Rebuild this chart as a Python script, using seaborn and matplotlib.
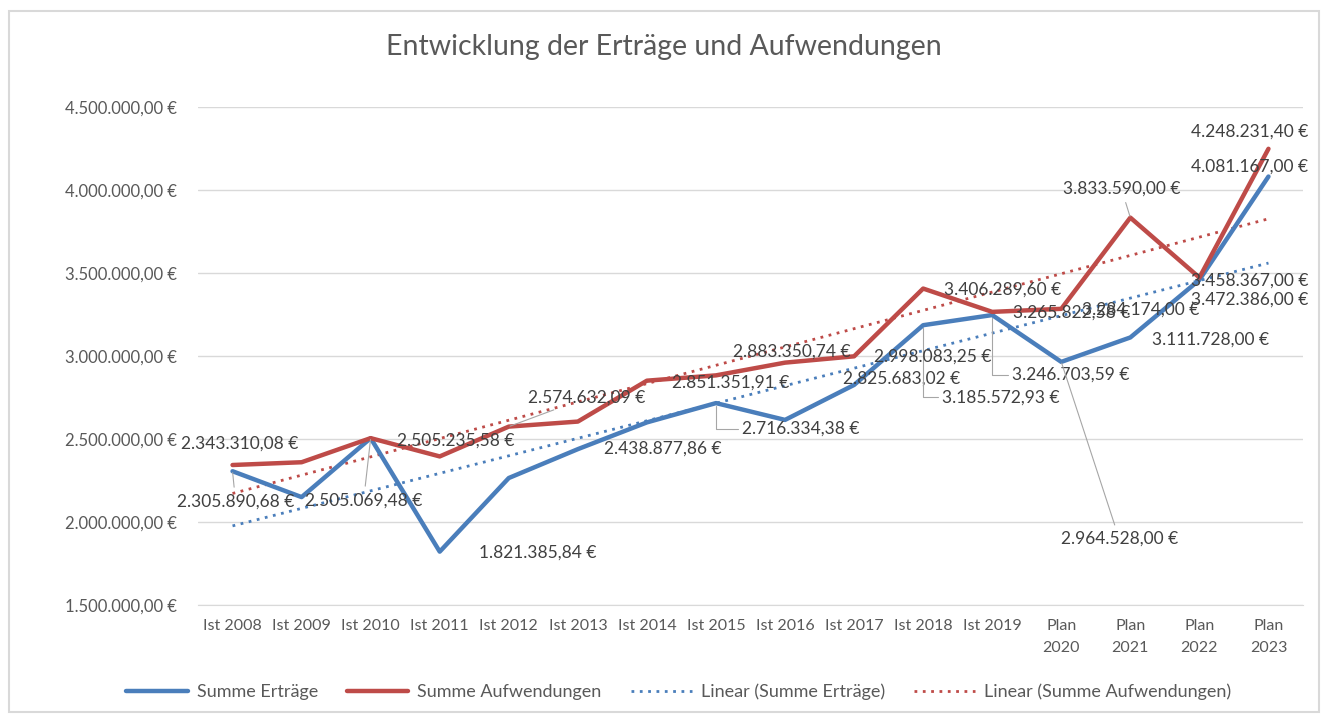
import numpy as np
import pandas as pd
import seaborn as sns
import matplotlib.pyplot as plt

# Daten
jahre = ['Ist 2008', 'Ist 2009', 'Ist 2010', 'Ist 2011', 'Ist 2012', 'Ist 2013', 'Ist 2014', 'Ist 2015',
         'Ist 2016', 'Ist 2017', 'Ist 2018', 'Ist 2019', 'Plan\n2020', 'Plan\n2021', 'Plan\n2022', 'Plan\n2023']
ertraege = [2305890.68, 2150000, 2505069.48, 1821385.84, 2265000, 2438877.86, 2600000, 2716334.38,
            2615000, 2825683.02, 3185572.93, 3246703.59, 2964528.00, 3111728.00, 3458367.00, 4081167.00]
aufwendungen = [2343310.08, 2360000, 2505235.58, 2395000, 2574632.09, 2605000, 2851351.91, 2883350.74,
                2960000, 2998083.25, 3406289.60, 3265822.58, 3284174.00, 3833590.00, 3472386.00, 4248231.40]

# welche Punkte eine Beschriftung haben
ertraege_lab = [0, 2, 3, 5, 7, 9, 10, 11, 12, 13, 14, 15]
aufwendungen_lab = [0, 2, 4, 6, 7, 9, 10, 11, 12, 13, 14, 15]

blau = '#4a7ebb'
rot = '#be4b48'
grau = '#595959'

# Platzierung der Beschriftungen (Pixel-Versatz, Linie ja/nein)
pos_e = {0: (3, -30, 'line'), 2: (-7, -62, 'line'), 3: (98, -1, None), 5: (85, 1, None),
         7: (85, -26, 'angle'), 9: (48, 6, None), 10: (78, -72, 'angle'), 11: (79, -60, 'angle'),
         12: (58, -177, 'line'), 13: (80, -2, None), 14: (50, -1, None), 15: (-19, 10, None)}
pos_a = {0: (7, 21, None), 2: (85, -2, None), 4: (78, 29, 'line'), 6: (84, -2, None),
         7: (76, 24, None), 9: (79, 0, None), 10: (79, -1, None), 11: (79, -1, None),
         12: (79, -1, None), 13: (-9, 29, 'line'), 14: (50, -22, None), 15: (-19, 17, None)}


def euro(v):
    s = f'{v:,.2f}'.replace(',', 'X').replace('.', ',').replace('X', '.')
    return s + ' €'


x = np.arange(len(jahre))
df = pd.DataFrame({'x': x, 'Summe Erträge': ertraege, 'Summe Aufwendungen': aufwendungen})

sns.set_style('white')
plt.rcParams['font.family'] = ['Lato', 'DejaVu Sans']

fig = plt.figure(figsize=(13.25, 7.2), dpi=100)
ax = fig.add_axes([198 / 1325, 1 - 605 / 720, 1105 / 1325, 498 / 720])

sns.lineplot(data=df, x='x', y='Summe Erträge', color=blau, lw=3.2, ax=ax, label='Summe Erträge')
sns.lineplot(data=df, x='x', y='Summe Aufwendungen', color=rot, lw=3.2, ax=ax, label='Summe Aufwendungen')

# lineare Trendlinien
for werte, farbe, name in [(ertraege, blau, 'Linear (Summe Erträge)'),
                           (aufwendungen, rot, 'Linear (Summe Aufwendungen)')]:
    k, d = np.polyfit(x, werte, 1)
    ax.plot(x, k * x + d, color=farbe, lw=2, ls=(0, (1, 2)), label=name, zorder=1)

# Datenbeschriftungen
for werte, idx, pos in [(ertraege, ertraege_lab, pos_e), (aufwendungen, aufwendungen_lab, pos_a)]:
    for i in idx:
        dx, dy, art = pos[i]
        props = None
        if art == 'line':
            props = dict(arrowstyle='-', color='#a6a6a6', lw=0.8, shrinkA=2, shrinkB=1)
        elif art == 'angle':
            props = dict(arrowstyle='-', color='#a6a6a6', lw=0.8, shrinkA=1, shrinkB=2,
                         connectionstyle='angle,angleA=0,angleB=90,rad=0', relpos=(0, 0.5))
        ax.annotate(euro(werte[i]), xy=(i, werte[i]), xytext=(dx, dy), textcoords='offset pixels',
                    ha='center', va='center', fontsize=12.5, color='#404040', arrowprops=props,
                    zorder=5)

ax.set_xlim(-0.5, len(jahre) - 0.5)
ax.set_ylim(1500000, 4500000)
ax.set_yticks(np.arange(1500000, 4500001, 500000))
ax.set_yticklabels([euro(v) for v in np.arange(1500000, 4500001, 500000)], fontsize=12, color=grau)
ax.set_xticks(x)
ax.set_xticklabels(jahre, fontsize=11.5, color=grau, linespacing=1.7, va='top')
ax.tick_params(axis='y', length=0, pad=15)
ax.tick_params(axis='x', length=0, pad=10)
ax.set_xlabel('')
ax.set_ylabel('')
ax.grid(axis='y', color='#d9d9d9', lw=1)
for s in ['top', 'right', 'left']:
    ax.spines[s].set_visible(False)
ax.spines['bottom'].set_color('#d9d9d9')

fig.suptitle('Entwicklung der Erträge und Aufwendungen', x=664 / 1325, y=1 - 47 / 720, va='center',
             fontsize=20.5, color=grau)

h, l = ax.get_legend_handles_labels()
ax.legend_.remove()
fig.legend(h, l, loc='center', bbox_to_anchor=(679 / 1325, 1 - 692 / 720), ncol=4, frameon=False,
           fontsize=13, labelcolor=grau, handlelength=3.4, handletextpad=0.5, columnspacing=1.6)

fig.patches.append(plt.Rectangle((9 / 1325, 8 / 720), 1310 / 1325, 701 / 720, transform=fig.transFigure,
                                 fill=False, edgecolor='#d9d9d9', lw=1.5))

fig.savefig('out.png', dpi=100)
